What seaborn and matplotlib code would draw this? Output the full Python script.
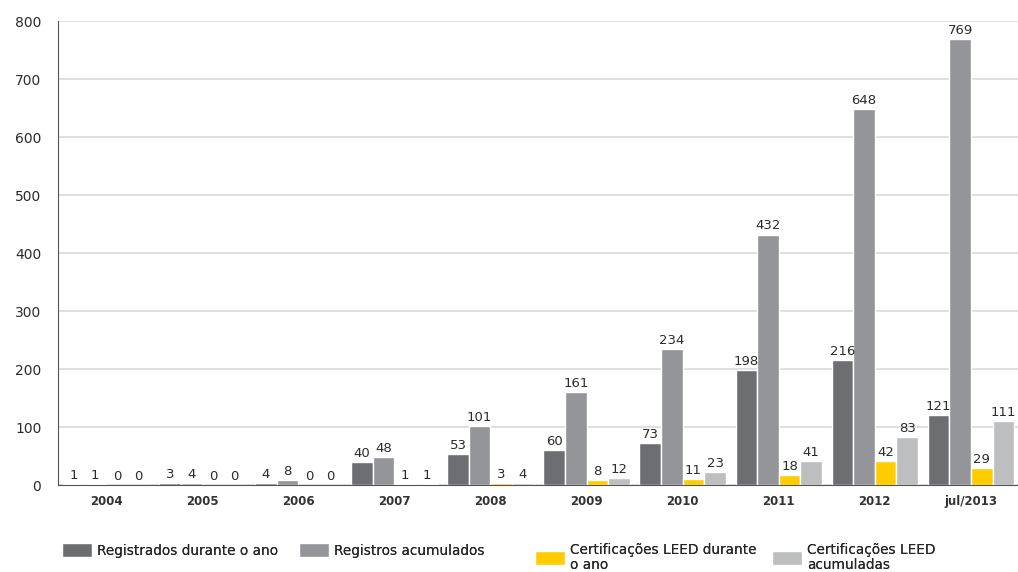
import numpy as np
import pandas as pd
import matplotlib
matplotlib.use('Agg')
import matplotlib.pyplot as plt
import seaborn as sns
from matplotlib.patches import Patch

# --- dados ---
anos = ['2004', '2005', '2006', '2007', '2008', '2009', '2010', '2011', '2012', 'jul/2013']
registrados_ano = [1, 3, 4, 40, 53, 60, 73, 198, 216, 121]
registros_acum = [1, 4, 8, 48, 101, 161, 234, 432, 648, 769]
cert_ano = [0, 0, 0, 1, 3, 8, 11, 18, 42, 29]
cert_acum = [0, 0, 0, 1, 4, 12, 23, 41, 83, 111]

series = ['Registrados durante o ano', 'Registros acumulados',
          'Certificações LEED durante\no ano', 'Certificações LEED\nacumuladas']
cores = ['#6d6e71', '#939598', '#ffcc00', '#bcbec0']

df = pd.DataFrame({'ano': anos, series[0]: registrados_ano, series[1]: registros_acum,
                   series[2]: cert_ano, series[3]: cert_acum})
df = df.melt(id_vars='ano', var_name='serie', value_name='valor')

sns.set_style('white')
plt.rcParams['font.family'] = ['DejaVu Sans']

fig = plt.figure(figsize=(10.18, 5.72), dpi=100)
ax = fig.add_axes([0.057, 0.152, 0.944, 0.811])

sns.barplot(data=df, x='ano', y='valor', hue='serie', hue_order=series,
            palette=cores, saturation=1, width=0.9, gap=0, edgecolor='white',
            linewidth=1, legend=False, ax=ax)

for cont in ax.containers:
    ax.bar_label(cont, fmt='%d', padding=1.5, fontsize=9.5, color='#2b2b2b')

ax.set_ylim(0, 800)
ax.set_xlim(-0.5, 9.5)
ax.set_yticks(range(0, 801, 100))
ax.yaxis.grid(True, color='#d9d9d9', linewidth=1.2)
ax.set_axisbelow(True)
ax.set_xlabel('')
ax.set_ylabel('')
for s in ['top', 'right']:
    ax.spines[s].set_visible(False)
ax.spines['left'].set_color('#555555')
ax.spines['bottom'].set_color('#555555')

# ticks entre os grupos
ax.set_xticks(np.arange(-0.5, 10, 1), minor=True)
ax.tick_params(axis='x', which='minor', length=6, color='#555555')
ax.tick_params(axis='x', which='major', length=0, labelsize=8.5, pad=7, labelcolor='#333333')
ax.tick_params(axis='y', length=10, color='#d9d9d9', labelsize=10, labelcolor='#2b2b2b', pad=2)
for lbl in ax.get_xticklabels():
    lbl.set_fontweight('bold')

# legenda
pos_x = [62, 299, 535, 772]
for i in range(4):
    leg = fig.legend(handles=[Patch(facecolor=cores[i])], labels=[series[i]],
                     loc='upper left', bbox_to_anchor=(pos_x[i] / 1018, 1 - 543 / 572),
                     frameon=False, fontsize=9.8, handlelength=2.2, handleheight=1.2,
                     handletextpad=0.4, borderpad=0, borderaxespad=0)
    leg.get_texts()[0].set_linespacing(1.1)
    fig.add_artist(leg)

fig.savefig('out.png', dpi=100)
